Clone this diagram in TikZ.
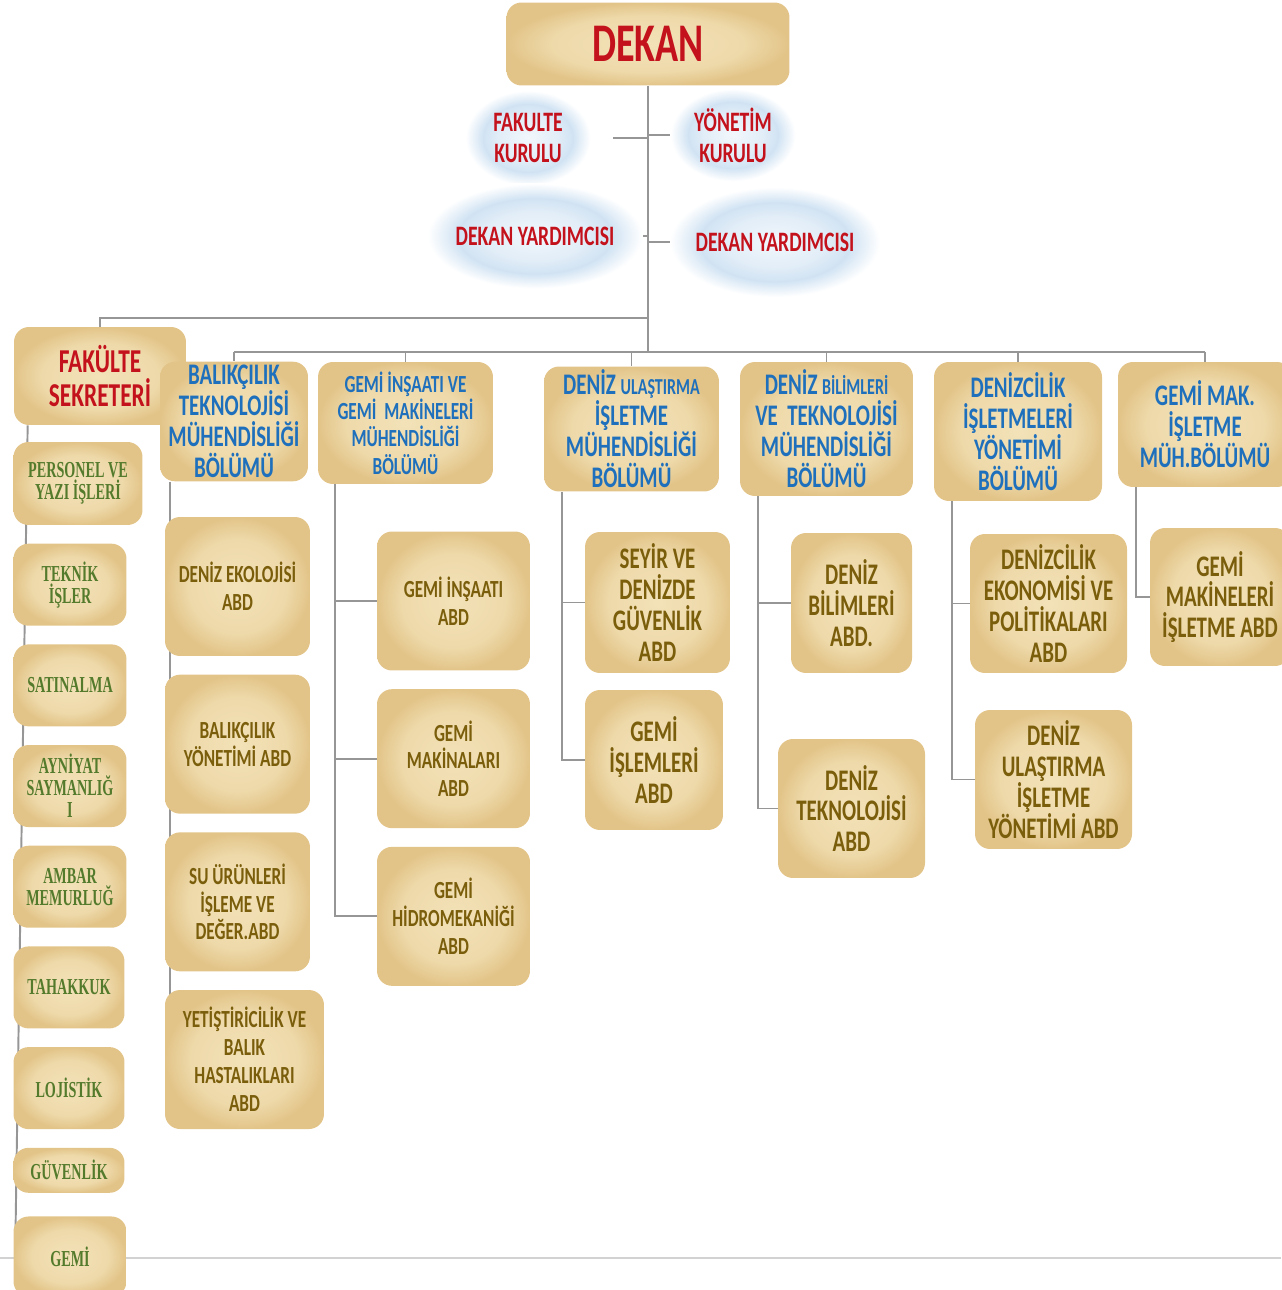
\documentclass[tikz,border=0pt]{standalone}
\usepackage{fontspec}
\setmainfont[FakeStretch=0.7]{Carlito}
\newfontfamily\serifcond[FakeStretch=0.62]{Liberation Serif}
\usetikzlibrary{
	positioning,
	calc,
	backgrounds
}

\definecolor{dekanred}{RGB}{196,18,28}
\definecolor{bolumblue}{RGB}{31,112,188}
\definecolor{abdolive}{RGB}{122,94,12}
\definecolor{birimgreen}{RGB}{84,122,44}
\definecolor{papyrus}{RGB}{226,196,136}
\definecolor{papyruslight}{RGB}{243,226,184}
\definecolor{glowblue}{RGB}{189,215,238}
\definecolor{linegray}{RGB}{150,150,150}

\pgfdeclareradialshading{papyrusshade}{\pgfpoint{0bp}{0bp}}{color(0bp)=(papyruslight);color(17bp)=(papyruslight!70!papyrus);color(25bp)=(papyrus);color(50bp)=(papyrus)}
\pgfdeclareradialshading{glowshade}{\pgfpoint{0bp}{0bp}}{color(0bp)=(glowblue!20);color(12bp)=(glowblue!45);color(18bp)=(glowblue!70);color(25bp)=(white);color(50bp)=(white)}

\begin{document}
\begin{tikzpicture}[
	x=0.02cm, y=-0.02cm,
	node distance = 0.36cm,
	box/.style = {
		rectangle, rounded corners=0.3cm,
		shade, shading=papyrusshade,
		align=center, inner sep=2pt
	},
	bolum/.style = {box, text=bolumblue, font=\bfseries\fontsize{17}{17.6}\selectfont},
	abd/.style = {box, text=abdolive, font=\bfseries\fontsize{14}{15.9}\selectfont, minimum height=2.78cm},
	abdbig/.style = {abd, font=\bfseries\fontsize{17}{17.6}\selectfont},
	birim/.style = {
		box, text=birimgreen,
		font=\serifcond\bfseries\fontsize{13}{12.5}\selectfont,
		minimum width=2.26cm, minimum height=1.64cm
	},
	kurul/.style = {
		rectangle, shade, shading=glowshade,
		align=center, text=dekanred,
		font=\bfseries\fontsize{16}{17.6}\selectfont
	},
	conn/.style = {draw=linegray, line width=1.1pt}
]
	\useasboundingbox (0,0) rectangle (1281,1290);

	\node (fk) [kurul, minimum width=2.5cm, minimum height=1.9cm] at (528,138) {FAKULTE\\KURULU};
	\node (yk) [kurul, minimum width=2.5cm, minimum height=1.85cm] at (733,135) {YÖNETİM\\KURULU};
	\node (dy1) [kurul, minimum width=4.3cm, minimum height=2.1cm] at (535,236) {DEKAN YARDIMCISI};
	\node (dy2) [kurul, minimum width=4.2cm, minimum height=2.2cm] at (775,242) {DEKAN YARDIMCISI};

	\node (dekan) [box, minimum width=5.66cm, minimum height=1.66cm, text=dekanred, font=\bfseries\fontsize{31}{34}\selectfont] at (648,44) {DEKAN};

	\node (sekreter) [box, minimum width=3.44cm, minimum height=1.96cm, text=dekanred, font=\bfseries\fontsize{19}{19.5}\selectfont] at (100,376) {FAKÜLTE\\SEKRETERİ};

	\node (personel) [birim, minimum width=2.58cm, minimum height=1.66cm] at (78,483.5) {PERSONEL VE\\YAZI İŞLERİ};
	\node (teknik) [birim, below=of personel.south west, anchor=north west] {TEKNİK\\İŞLER};
	\node (satin) [birim, below=of teknik.south west, anchor=north west] {SATINALMA};
	\node (ayniyat) [birim, below=of satin.south west, anchor=north west] {AYNİYAT\\SAYMANLIĞ\\I};
	\node (ambar) [birim, below=of ayniyat.south west, anchor=north west] {AMBAR\\MEMURLUĞ};
	\node (tahakkuk) [birim, below=of ambar.south west, anchor=north west, minimum width=2.22cm] {TAHAKKUK};
	\node (lojistik) [birim, below=of tahakkuk.south west, anchor=north west, minimum width=2.22cm] {LOJİSTİK};
	\node (guvenlik) [birim, below=of lojistik.south west, anchor=north west, minimum width=2.22cm, minimum height=0.9cm] {GÜVENLİK};
	\node (gemi) [birim, below=0.46cm of guvenlik.south west, anchor=north west, minimum height=1.6cm] {GEMİ};

	\node (balik) [bolum, minimum width=2.96cm, minimum height=2.38cm] at (234,421.5) {BALIKÇILIK\\TEKNOLOJİSİ\\MÜHENDİSLİĞİ\\BÖLÜMÜ};
	\node (gemiins) [bolum, font=\bfseries\fontsize{14}{15.6}\selectfont, minimum width=3.5cm, minimum height=2.44cm] at (405.5,423) {GEMİ İNŞAATI VE\\GEMİ~ MAKİNELERİ\\MÜHENDİSLİĞİ\\BÖLÜMÜ};
	\node (denizul) [bolum, minimum width=3.5cm, minimum height=2.44cm] at (631.5,429) {DENİZ {\fontsize{13}{17.6}\selectfont ULAŞTIRMA}\\İŞLETME\\MÜHENDİSLİĞİ\\BÖLÜMÜ};
	\node (denizbil) [bolum, minimum width=3.46cm, minimum height=2.68cm] at (826.5,429) {DENİZ {\fontsize{13}{17.6}\selectfont BİLİMLERİ}\\VE~ TEKNOLOJİSİ\\MÜHENDİSLİĞİ\\BÖLÜMÜ};
	\node (denizcil) [bolum, minimum width=3.36cm, minimum height=2.78cm] at (1018,431.5) {DENİZCİLİK\\İŞLETMELERİ\\YÖNETİMİ\\BÖLÜMÜ};
	\node (gemimak) [bolum, minimum width=3.48cm, minimum height=2.5cm] at (1205,424.5) {GEMİ MAK.\\İŞLETME\\MÜH.BÖLÜMÜ};

	\node (bal1) [abd, minimum width=2.9cm] at (237.5,586.5) {DENİZ EKOLOJİSİ\\ABD};
	\node (bal2) [abd, minimum width=2.9cm, below=of bal1] {BALIKÇILIK\\YÖNETİMİ ABD};
	\node (bal3) [abd, minimum width=2.9cm, below=of bal2] {SU ÜRÜNLERİ\\İŞLEME VE\\DEĞER.ABD};
	\node (bal4) [abd, minimum width=3.18cm, below=of bal3.south west, anchor=north west] {YETİŞTİRİCİLİK VE\\BALIK\\HASTALIKLARI\\ABD};

	\node (gi1) [abd, minimum width=3.06cm] at (453.5,601) {GEMİ İNŞAATI\\ABD};
	\node (gi2) [abd, minimum width=3.06cm, below=of gi1] {GEMİ\\MAKİNALARI\\ABD};
	\node (gi3) [abd, minimum width=3.06cm, below=of gi2] {GEMİ\\HİDROMEKANİĞİ\\ABD};

	\node (du1) [abdbig, minimum width=2.9cm, minimum height=2.82cm] at (657.5,602.5) {SEYİR VE\\DENİZDE\\GÜVENLİK\\ABD};
	\node (du2) [abdbig, minimum width=2.76cm, minimum height=2.8cm] at (654,760) {GEMİ\\İŞLEMLERİ\\ABD};

	\node (db1) [abdbig, minimum width=2.42cm, minimum height=2.8cm] at (851.5,603) {DENİZ\\BİLİMLERİ\\ABD.};
	\node (db2) [abdbig, minimum width=2.94cm] at (851.5,808.5) {DENİZ\\TEKNOLOJİSİ\\ABD};

	\node (dc1) [abdbig, minimum width=3.14cm] at (1048.5,603.5) {DENİZCİLİK\\EKONOMİSİ VE\\POLİTİKALARI\\ABD};
	\node (dc2) [abdbig, minimum width=3.14cm] at (1053.5,779.5) {DENİZ\\ULAŞTIRMA\\İŞLETME\\YÖNETİMİ ABD};

	\node (gm1) [abdbig, minimum width=2.8cm, minimum height=2.76cm] at (1220,597) {GEMİ\\MAKİNELERİ\\İŞLETME ABD};

	\coordinate (sek) at (648,318);
	\coordinate (bus) at (648,352);

	\begin{scope}[on background layer]
		\draw [draw=gray!35, line width=0.8pt] (0,1258) -- (1281,1258);

		\draw [conn] (dekan.south) -- (bus);
		\draw [conn] (sek) -| (sekreter.north);
		\draw [conn] (balik.north |- bus) -- (gemimak.north |- bus);
		\foreach \b in {balik,gemiins,denizul,denizbil,denizcil,gemimak}
			\draw [conn] (\b.north |- bus) -- (\b.north);

		\draw [conn] (fk -| dekan.south) -- ++(-35,0);
		\draw [conn] (yk -| dekan.south) -- ++(22,0);
		\draw [conn] (dy1 -| dekan.south) -- ++(-14,0);
		\draw [conn] (dy2 -| dekan.south) -- ++(22,0);

		\draw [conn] ($(sekreter.south west)+(14,0)$) -- ($(gemi.west)+(2,0)$);
		\draw [conn] ($(balik.south west)+(10,0)$) -- ($(bal4.west)+(5,0)$);

		\foreach \c in {gi1,gi2,gi3}
			\draw [conn] ($(gemiins.south west)+(17,0)$) |- (\c.west);
		\foreach \c in {du1,du2}
			\draw [conn] ($(denizul.south west)+(18,0)$) |- (\c.west);
		\foreach \c in {db1,db2}
			\draw [conn] ($(denizbil.south west)+(18,0)$) |- (\c.west);
		\foreach \c in {dc1,dc2}
			\draw [conn] ($(denizcil.south west)+(18,0)$) |- (\c.west);
		\draw [conn] ($(gemimak.south west)+(18,0)$) |- (gm1.west);
	\end{scope}
\end{tikzpicture}
\end{document}
